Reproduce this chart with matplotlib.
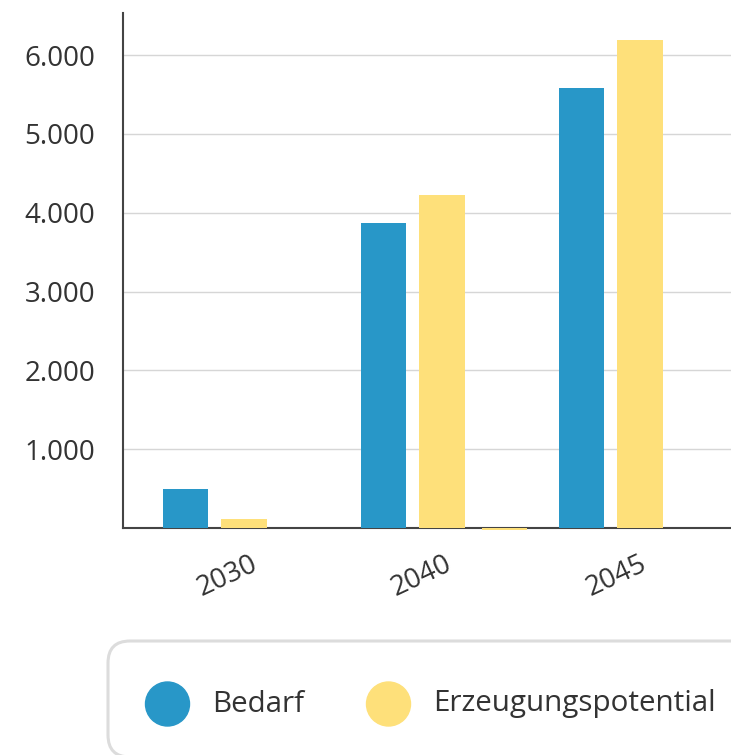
import matplotlib
matplotlib.use('Agg')
import matplotlib.pyplot as plt
import numpy as np
from matplotlib.patches import FancyBboxPatch, Ellipse
from matplotlib.ticker import FuncFormatter

plt.rcParams['font.family'] = ['Open Sans', 'DejaVu Sans']

# Daten
jahre = ['2030', '2040', '2045']
bedarf = [490, 3870, 5585]
erzeugung = [110, 4225, 6190]
zusatz = [0, -25, 0]  # dritte (gelbe) Spalte, nur 2040 sichtbar
serien = ['Bedarf', 'Erzeugungspotential']
farben = ['#2897c8', '#fee07a']
yticks = [1000, 2000, 3000, 4000, 5000, 6000]

textfarbe = '#333333'
W, H = 731, 755
fig = plt.figure(figsize=(W / 100, H / 100), dpi=100)
ax = fig.add_axes([123 / W, (H - 528) / H, (W - 123) / W, (528 - 13) / H])

x = np.arange(len(jahre))
breite = 0.23
ax.bar(x - 0.295, bedarf, breite, color=farben[0], clip_on=False, zorder=3, label=serien[0])
ax.bar(x, erzeugung, breite, color=farben[1], clip_on=False, zorder=3, label=serien[1])
ax.bar(x + 0.315, zusatz, breite, color=farben[1], clip_on=False, zorder=3)

ax.set_xlim(-0.611, 2.46)
ax.set_ylim(0, 6533)

ax.set_yticks(yticks)
ax.yaxis.set_major_formatter(FuncFormatter(lambda v, p: f'{v:,.0f}'.replace(',', '.')))
ax.grid(axis='y', color='#d6d6d6', lw=1, zorder=0)
ax.tick_params(axis='y', length=0, pad=20, labelsize=20, labelcolor=textfarbe)

# Beschriftungen liegen etwas enger als die Balkengruppen
ax.set_xticks(x * 0.983 + 0.03)
ax.set_xticklabels(jahre, rotation=25, ha='right', rotation_mode='anchor')
ax.tick_params(axis='x', length=0, pad=16, labelsize=20, labelcolor=textfarbe)

for s in ['top', 'right']:
    ax.spines[s].set_visible(False)
for s in ['left', 'bottom']:
    ax.spines[s].set_color('#444444')
    ax.spines[s].set_linewidth(1.5)
ax.set_axisbelow(True)

# Legende
lax = fig.add_axes([0, 0, 1, 1], zorder=-1)
lax.set_xlim(0, W)
lax.set_ylim(H, 0)
lax.axis('off')
lax.add_patch(FancyBboxPatch((108, 641), 720, 116, boxstyle='round,pad=0,rounding_size=22',
                             fc='white', ec='#dcdcdc', lw=2.2))
for cx, tx, name, farbe in zip([167.5, 388.5], [212, 433], serien, farben):
    lax.add_patch(Ellipse((cx, 704), 44, 44, color=farbe))
    lax.text(tx, 704, name, va='center', ha='left', fontsize=21.3, color=textfarbe)

fig.savefig('out.png', dpi=100)
